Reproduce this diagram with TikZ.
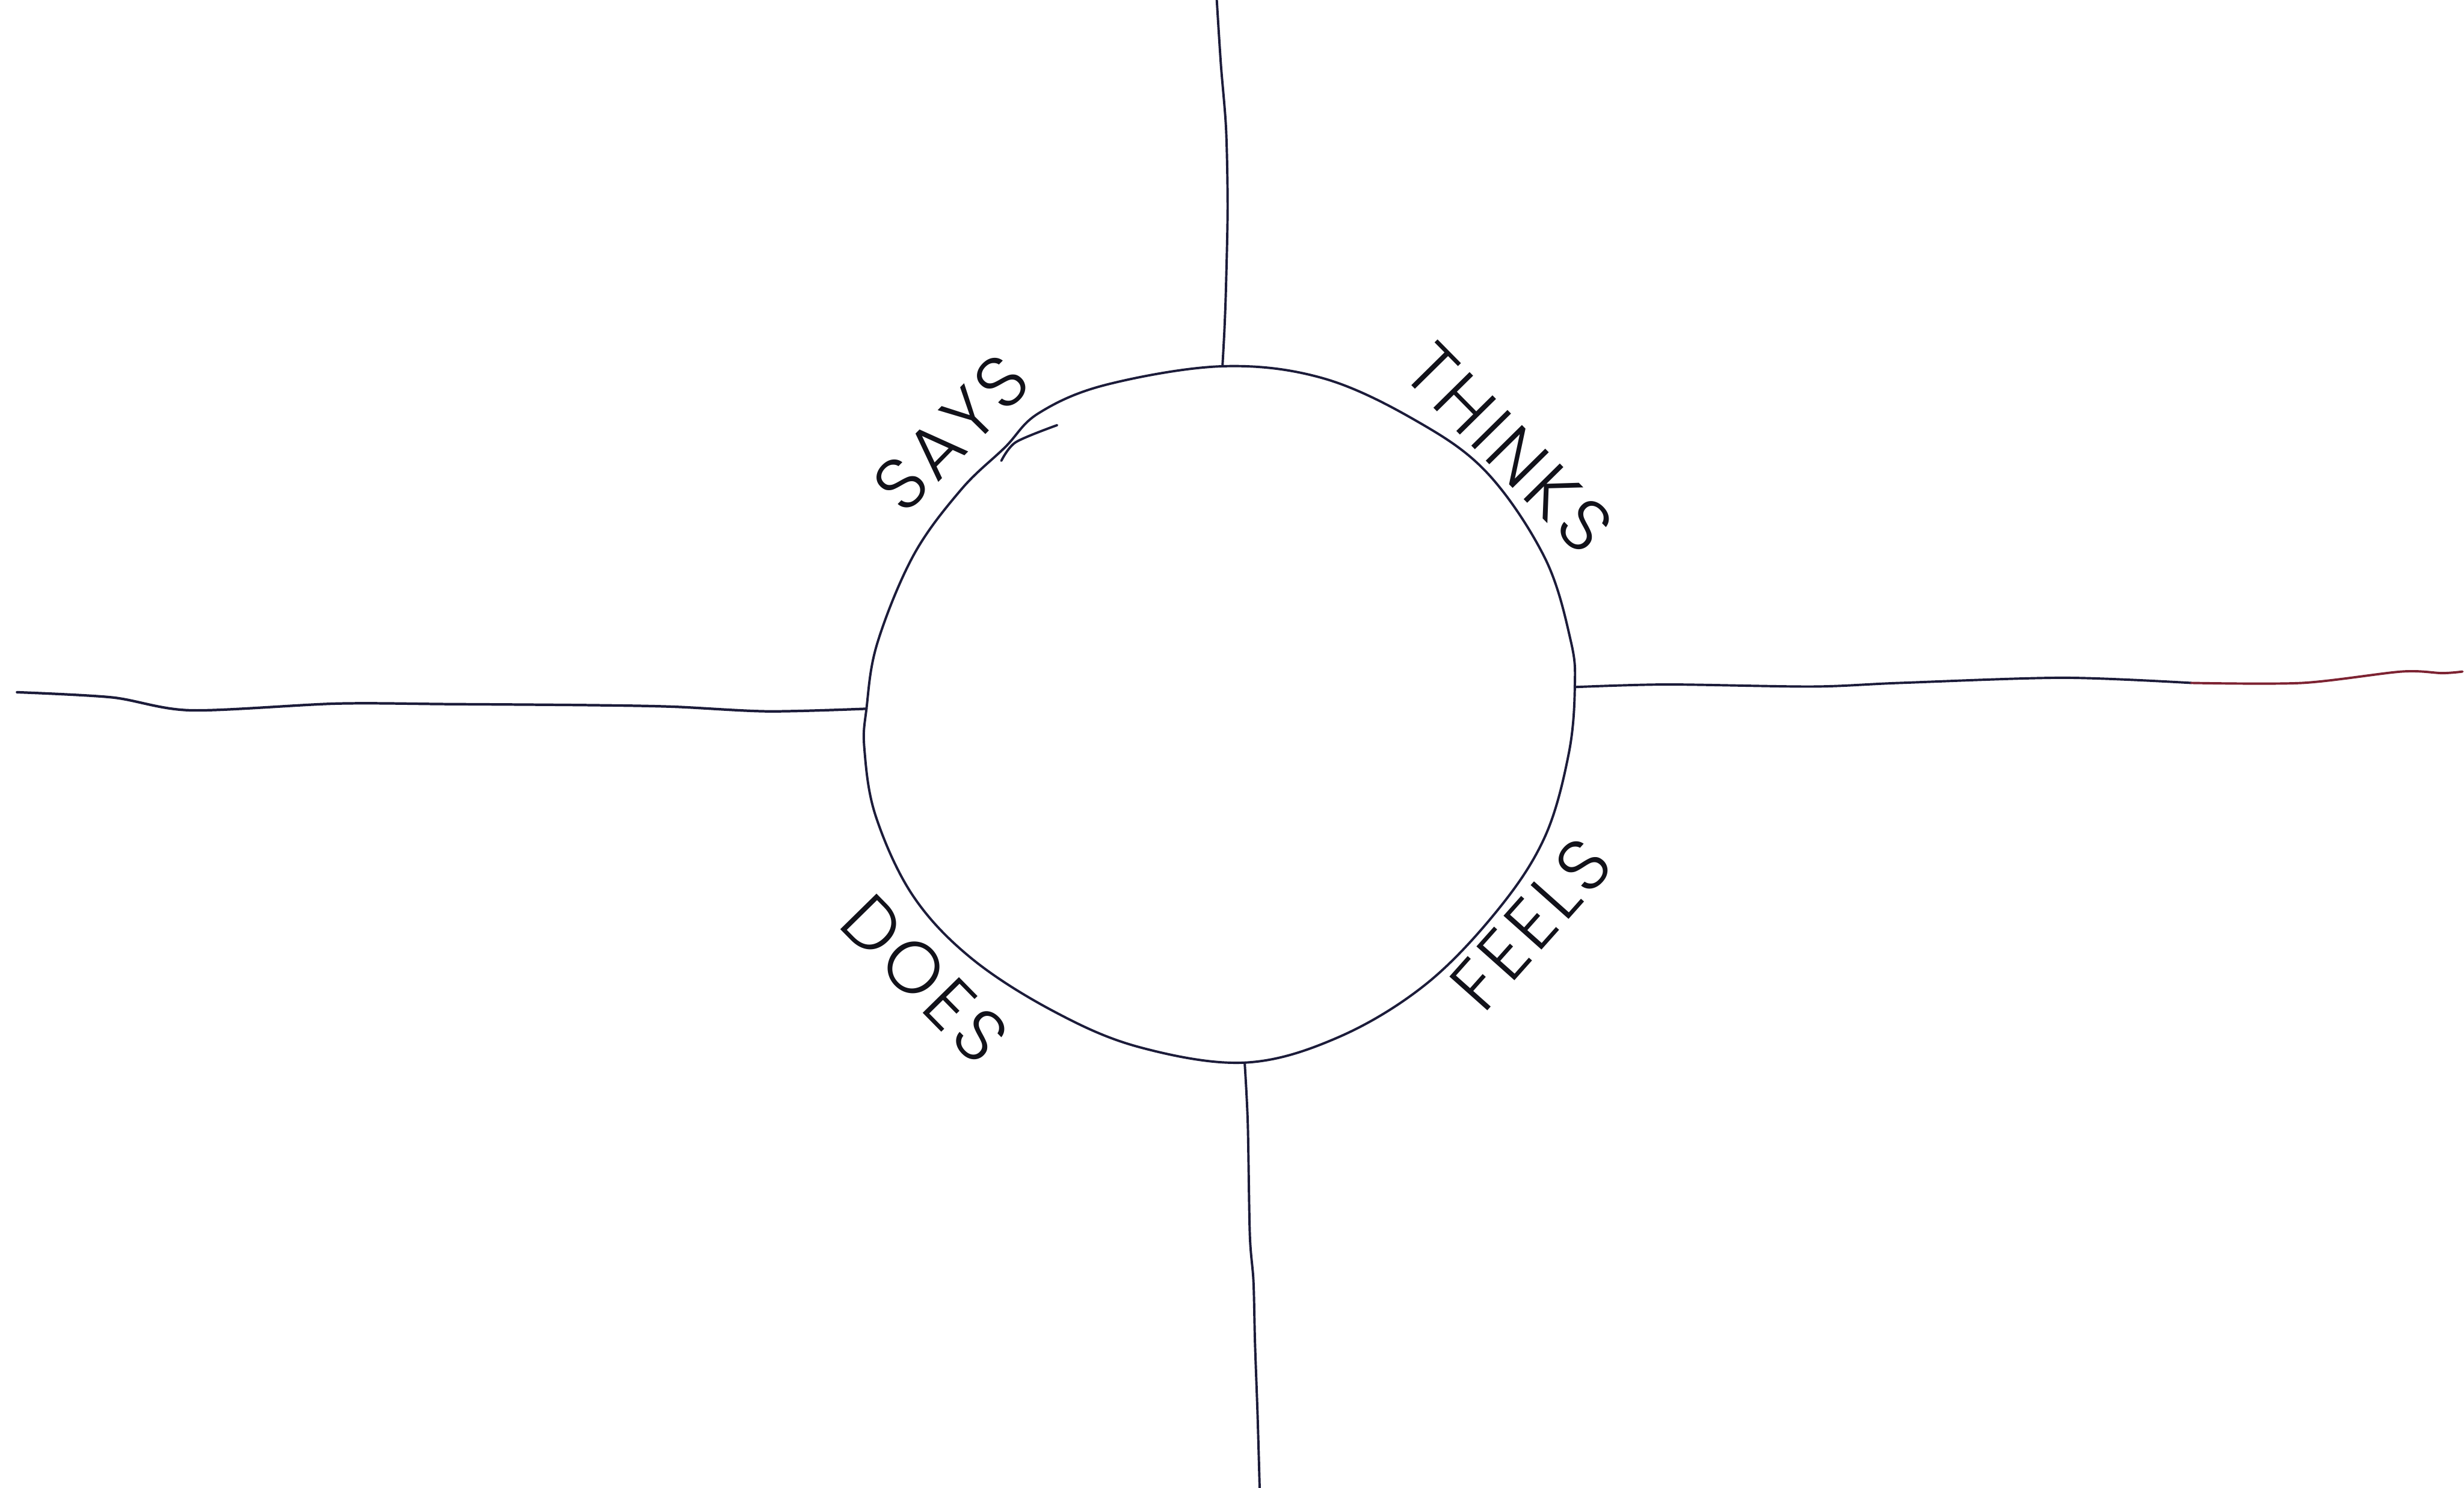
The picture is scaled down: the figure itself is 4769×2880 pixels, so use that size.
\documentclass[tikz,border=0pt]{standalone}
\usepackage{fontspec}
\IfFontExistsTF{Poppins Light}{\newfontfamily\handfont{Poppins Light}[LetterSpace=6]}{%
  \IfFontExistsTF{Poppins ExtraLight}{\newfontfamily\handfont{Poppins ExtraLight}[LetterSpace=6]}{%
    \newfontfamily\handfont{Poppins}[LetterSpace=6]}}
\definecolor{linec}{RGB}{28,28,58}
\definecolor{redc}{RGB}{125,35,50}
\definecolor{textc}{RGB}{18,18,26}
\begin{document}
\begin{tikzpicture}[x=0.01cm,y=-0.01cm,
  ln/.style={line width=1.3pt, draw=linec, line cap=round, line join=round},
  lbl/.style={font=\handfont\fontsize{40}{42}\selectfont, text=textc, inner sep=0pt}]
\fill[white] (0,0) rectangle (4769,2880);
\useasboundingbox (0,0) rectangle (4769,2880);
% junction points on the circle
\coordinate (ctop) at (2366,709);
\coordinate (cright) at (3048,1330);
\coordinate (cbottom) at (2409,2057);
\coordinate (cleft) at (1677,1372);
% free ends of the lines
\coordinate (topend) at (2355,0);
\coordinate (bottomend) at (2438,2880);
\coordinate (leftend) at (33,1340);
\coordinate (rightend) at (4766,1300);
\coordinate (rightmid) at (4241,1322);
% the circle
\draw[ln] plot[smooth cycle, tension=0.6] coordinates {
  (ctop) (2560,732) (2740,814) (2878,915) (2990,1080) (3040,1240) (cright)
  (3036,1460) (2990,1620) (2900,1760) (2760,1905) (2590,2008) (cbottom)
  (2205,2027) (2040,1958) (1880,1855) (1767,1734) (1695,1580) (1673,1450)
  (cleft) (1698,1245) (1768,1075) (1860,948) (1945,866) (2010,800) (2140,745)};
\draw[ln] plot[smooth] coordinates {(1938,892) (1966,856) (2046,823)};
% quadrant lines
\draw[ln] plot[smooth, tension=0.5] coordinates {(topend) (2363,125) (2373,250) (2376,400) (2373,550) (2370,635) (ctop)};
\draw[ln] plot[smooth, tension=0.5] coordinates {(cbottom) (2415,2174) (2419,2390) (2426,2480) (2429,2600) (2434,2740) (bottomend)};
\draw[ln, line width=1.4pt] plot[smooth, tension=0.5] coordinates {(leftend) (217,1350) (369,1375) (651,1362) (868,1363) (1139,1365) (1302,1368) (1486,1377) (cleft)};
\draw[ln] plot[smooth, tension=0.5] coordinates {(cright) (3226,1325) (3508,1329) (3677,1322) (3993,1312) (rightmid)};
\draw[ln, draw=redc] plot[smooth, tension=0.5] coordinates {(rightmid) (4456,1322) (4648,1300) (4727,1303) (rightend)};
% labels
\node[lbl, rotate=45.5] (says) at (1841,838) {SAYS};
\node[lbl, rotate=-45.4] (thinks) at (2920,867) {THINKS};
\node[lbl, rotate=-45.5] (does) at (1790,1895) {DOES};
\node[lbl, rotate=48.3] (feels) at (2963,1788) {FEELS};
\end{tikzpicture}
\end{document}
